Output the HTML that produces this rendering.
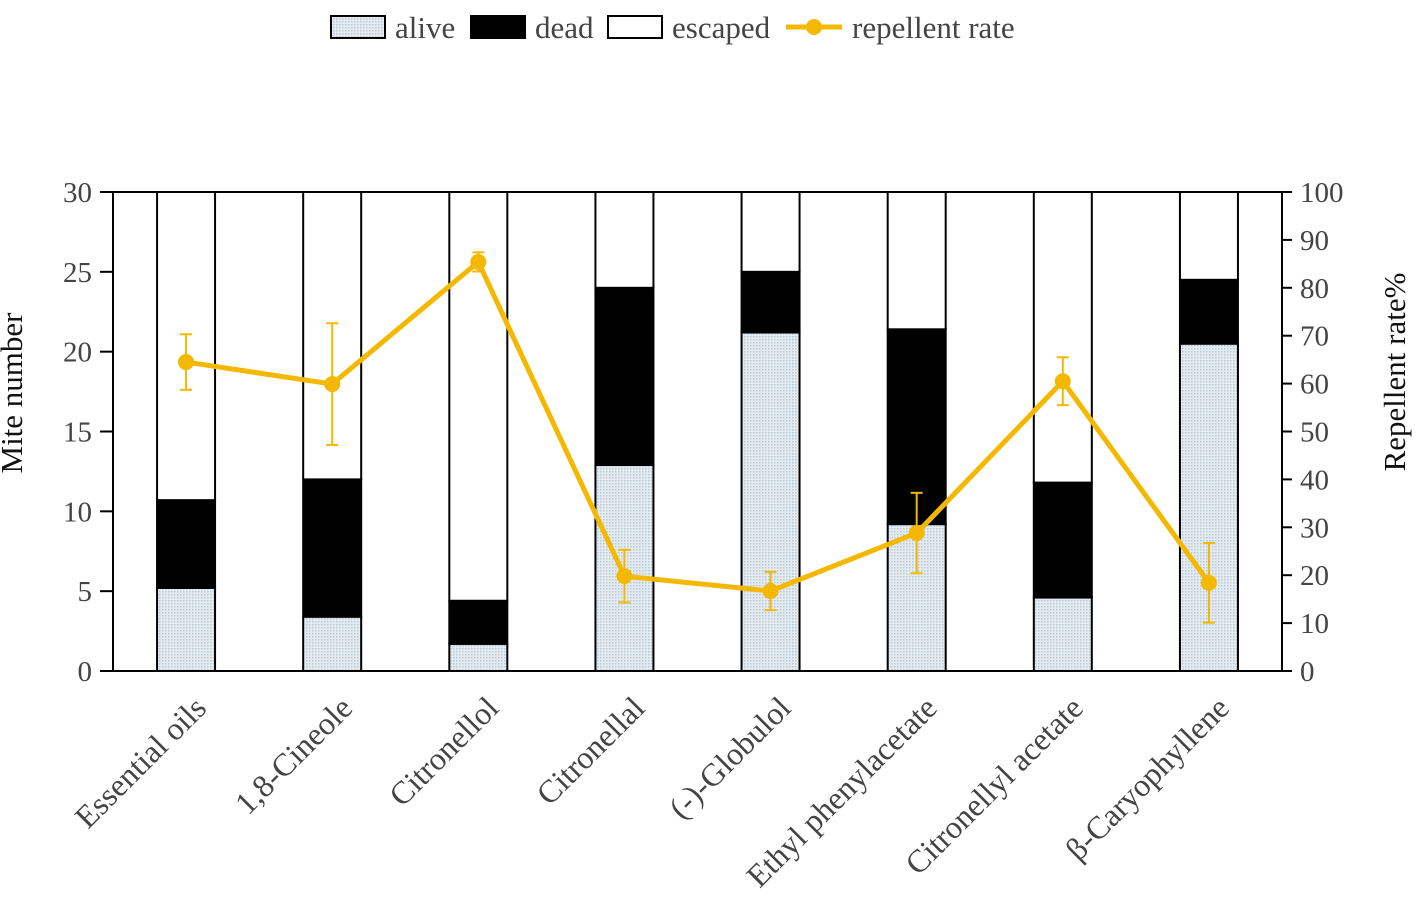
<!DOCTYPE html>
<html><head><meta charset="utf-8"><style>
body{margin:0;background:#fff;}
svg{display:block;font-family:"Liberation Serif",serif;}
</style></head><body>
<svg id="chart" width="1417" height="915" viewBox="0 0 1417 915">
<defs>
<pattern id="dots" width="3" height="3" patternUnits="userSpaceOnUse">
<rect width="3" height="3" fill="#e4ecf2"/><rect width="1.5" height="1.5" fill="#b8c8d4"/>
</pattern>
</defs>
</svg>
<script>
const categories=["Essential oils","1,8-Cineole","Citronellol","Citronellal","(-)-Globulol","Ethyl phenylacetate","Citronellyl acetate","β-Caryophyllene"];
const alive=[5.2,3.4,1.7,12.9,21.2,9.2,4.6,20.5];
const dead=[5.5,8.6,2.7,11.1,3.8,12.2,7.2,4.0];
const escaped=[19.3,18.0,25.6,6.0,5.0,8.6,18.2,5.5];
const rate=[64.5,59.9,85.4,19.8,16.7,28.8,60.5,18.4];
const rateErr=[5.8,12.7,2.0,5.5,4.0,8.4,5.0,8.3];
const leftTicks=[0,5,10,15,20,25,30];
const rightTicks=[0,10,20,30,40,50,60,70,80,90,100];

const NS="http://www.w3.org/2000/svg";
const svg=document.getElementById('chart');
const L=113,R=1282,T=192,B=671;
const yL=v=>B-(v/30)*(B-T);
const yR=v=>B-(v/100)*(B-T);
const band=(R-L)/categories.length;
const xC=i=>L+band*(i+0.5);
const bw=58;
function el(tag,attrs,parent){const e=document.createElementNS(NS,tag);for(const k in attrs)e.setAttribute(k,attrs[k]);(parent||svg).appendChild(e);return e;}

categories.forEach((c,i)=>{
  const g=el('g',{});
  
  
  const x=xC(i)-bw/2;
  let base=0;
  [[alive[i],'url(#dots)','alive'],[dead[i],'#000','dead'],[escaped[i],'#fff','escaped']].forEach(([v,f,n])=>{
    const r=el('rect',{x:x,y:yL(base+v),width:bw,height:yL(base)-yL(base+v),fill:f,stroke:'#000','stroke-width':2},g);
    
    
    base+=v;
  });
});
el('rect',{x:L,y:T,width:R-L,height:B-T,fill:'none',stroke:'#000','stroke-width':2});
leftTicks.forEach(t=>{
  el('line',{x1:L-13,x2:L,y1:yL(t),y2:yL(t),stroke:'#000','stroke-width':2});
  const tx=el('text',{x:92,y:yL(t)+10,'text-anchor':'end','font-size':29,fill:'#444'});tx.textContent=t;
  
  
});
rightTicks.forEach(t=>{
  el('line',{x1:R,x2:R+10,y1:yR(t),y2:yR(t),stroke:'#000','stroke-width':2});
  const tx=el('text',{x:1300,y:yR(t)+10,'text-anchor':'start','font-size':29,fill:'#444'});tx.textContent=t;
  
  
});
categories.forEach((c,i)=>{
  const x=xC(i)+22,y=710;
  const tx=el('text',{x:x,y:y,'text-anchor':'end','font-size':32,fill:'#444',transform:`rotate(-45 ${x} ${y})`});
  tx.textContent=c;
  
  
});
const Y='#f5b800';
el('polyline',{points:rate.map((v,i)=>xC(i)+','+yR(v)).join(' '),fill:'none',stroke:Y,'stroke-width':5,'stroke-linejoin':'round'});
rate.forEach((v,i)=>{
  const x=xC(i);
  el('line',{x1:x,x2:x,y1:yR(v+rateErr[i]),y2:yR(v-rateErr[i]),stroke:Y,'stroke-width':2});
  el('line',{x1:x-6,x2:x+6,y1:yR(v+rateErr[i]),y2:yR(v+rateErr[i]),stroke:Y,'stroke-width':2});
  el('line',{x1:x-6,x2:x+6,y1:yR(v-rateErr[i]),y2:yR(v-rateErr[i]),stroke:Y,'stroke-width':2});
  const p=el('circle',{cx:x,cy:yR(v),r:8,fill:Y});
  
  
});
</script>
<svg style="position:absolute;left:0;top:0" width="1417" height="915">
<g font-family="Liberation Serif, serif" font-size="31" fill="#444">
<text x="22" y="393" text-anchor="middle" transform="rotate(-90 22 393)" fill="#111">Mite number</text>
<text x="1405" y="372" text-anchor="middle" transform="rotate(-90 1405 372)" fill="#111">Repellent rate%</text>
<g>
<rect x="331" y="16" width="54" height="22" fill="url(#dots)" stroke="#000" stroke-width="2"/>
<text x="395" y="38">alive</text>
<rect x="471" y="16" width="54" height="22" fill="#000" stroke="#000" stroke-width="2"/>
<text x="535" y="38">dead</text>
<rect x="608" y="16" width="54" height="22" fill="#fff" stroke="#000" stroke-width="2"/>
<text x="672" y="38">escaped</text>
<line x1="786" x2="842" y1="27" y2="27" stroke="#f5b800" stroke-width="5"/>
<circle cx="814" cy="27" r="8" fill="#f5b800"/>
<text x="852" y="38">repellent rate</text>
</g>
</g>
</svg>
</body></html>
